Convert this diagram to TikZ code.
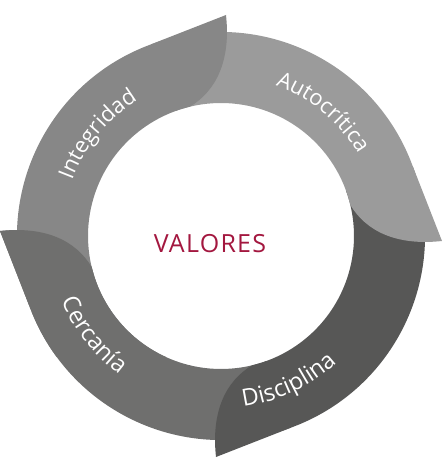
\documentclass[tikz,border=0pt]{standalone}
\usepackage{fontspec}
\setmainfont{Open Sans}
\usetikzlibrary{decorations.text}

\definecolor{integ}{HTML}{878787}
\definecolor{autoc}{HTML}{9B9B9B}
\definecolor{disci}{HTML}{575756}
\definecolor{cerca}{HTML}{6F6F6E}
\definecolor{valores}{HTML}{A3173F}

\newcommand\toplabelfont{\fontsize{22}{22}\selectfont\color{white}}
\newcommand\bottomlabelfont{\fontsize{23.5}{23.5}\selectfont\color{white}}

\tikzset{
  % one arrow-shaped piece of the ring (drawn for the upper-left quarter,
  % the others are rotated copies)
  pics/ringpiece/.style={code={
    \fill[#1] (200:204) arc[start angle=200,end angle=111,radius=204]
      -- (5,221) .. controls (10,175) and (-5,145) .. (103.5:133)
      arc[start angle=103.5,end angle=200,radius=133] -- cycle;
  }},
  toptext/.style={decorate,decoration={text along path,text align=center,
    text={|\toplabelfont|#1}}},
  bottomtext/.style={decorate,decoration={text along path,text align=center,
    text={|\bottomlabelfont|#1}}}
}

\begin{document}
\begin{tikzpicture}[x=1pt,y=1pt]
  \useasboundingbox (-221,-237) rectangle (222,236);

  % pieces, each one overlapping the start of the next
  \pic[rotate=-270] {ringpiece=cerca};
  \pic[rotate=-180] {ringpiece=disci};
  \pic[rotate=-90]  {ringpiece=autoc};
  \pic              {ringpiece=integ};
  % the head of the last piece lies over the start of the first one
  \begin{scope}
    \clip (-250,-120) rectangle (-40,250);
    \pic[rotate=-270] {ringpiece=cerca};
  \end{scope}

  % labels along the ring
  \path[toptext=Integridad]     (185:159) arc[start angle=185,end angle=96,radius=159];
  \path[toptext=Autocrítica]    (95:160) arc[start angle=95,end angle=6,radius=160];
  \path[bottomtext=Disciplina]  (250:172) arc[start angle=250,end angle=340,radius=172];
  \path[bottomtext=Cercanía]    (173:172) arc[start angle=173,end angle=263,radius=172];

  \node[inner sep=0pt,text=valores,font={\fontsize{25}{25}\selectfont\addfontfeature{LetterSpace=5}}]
    (valores) at (-11,-8) {VALORES};
\end{tikzpicture}
\end{document}
